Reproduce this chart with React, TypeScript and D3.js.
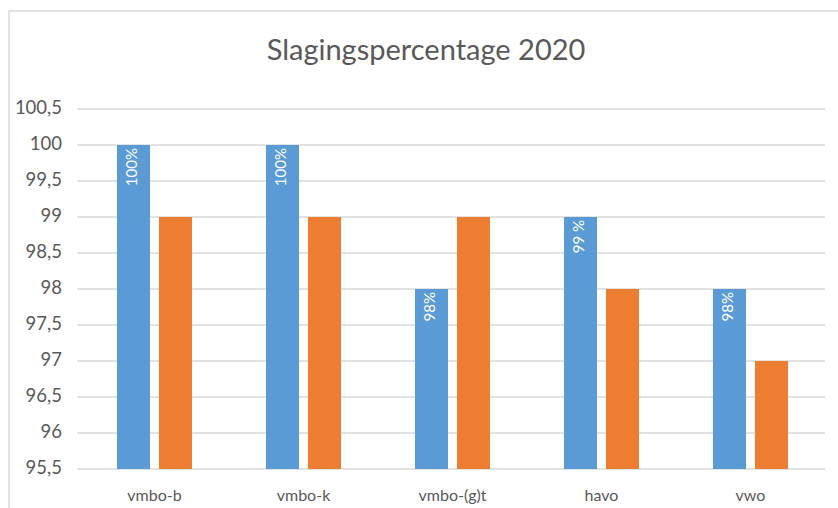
import React from "react";
import * as d3 from "d3";

const title = "Slagingspercentage 2020";
const categories = ["vmbo-b", "vmbo-k", "vmbo-(g)t", "havo", "vwo"];
const seriesNames = ["blauw", "oranje"];
const blueValues = [100, 100, 98, 99, 98];
const orangeValues = [99, 99, 99, 98, 97];
const blueLabels = ["100%", "100%", "98%", "99 %", "98%"];
const yTicks = [95.5, 96, 96.5, 97, 97.5, 98, 98.5, 99, 99.5, 100, 100.5];

const W = 838;
const H = 508;
const colors = ["#5B9BD5", "#ED7D31"];
const font = "Lato, 'Open Sans', sans-serif";
const textColor = "#595959";

export default function App() {
  const y = d3.scaleLinear().domain([95.5, 100.5]).range([469, 109]);
  const x0 = d3.scaleBand<string>().domain(categories).range([80, 825]).padding(0);
  const groupW = 75;
  const x1 = d3.scaleBand<string>().domain(seriesNames).range([-groupW / 2, groupW / 2]).paddingInner(0.214);
  const fmt = (v: number) => d3.format("")(v).replace(".", ",");
  const seriesVals = [blueValues, orangeValues];

  return (
    <svg width={W} height={H} style={{ position: "absolute", left: 0, top: 0 }} fontFamily={font}>
      <rect x={0} y={0} width={W} height={H} fill="#fff" />
      <rect x={9} y={11} width={W + 50} height={H + 50} fill="#fff" stroke="#d9d9d9" strokeWidth={1.5} />
      <text x={426} y={60} textAnchor="middle" fontSize={29} fill={textColor}>{title}</text>
      {yTicks.map((t) => (
        <g key={t}>
          <line x1={77} x2={825} y1={y(t)} y2={y(t)} stroke="#d9d9d9" strokeWidth={1.5} />
          <text x={62} y={y(t)} textAnchor="end" dominantBaseline="middle" fontSize={18.5} fill={textColor}>{fmt(t)}</text>
        </g>
      ))}
      {categories.map((c, i) => {
        const cx = (x0(c) as number) + x0.bandwidth() / 2;
        return (
          <g key={c}>
            {seriesVals.map((vals, s) => {
              const bx = cx + (x1(seriesNames[s]) as number);
              return (
                <rect key={s} x={bx} y={y(vals[i])} width={x1.bandwidth()} height={y(95.5) - y(vals[i])} fill={colors[s]} />
              );
            })}
            <text
              transform={`translate(${cx + (x1(seriesNames[0]) as number) + x1.bandwidth() / 2},${y(blueValues[i]) + 3}) rotate(-90)`}
              textAnchor="end"
              dominantBaseline="middle"
              fontSize={15}
              fill="#fff"
            >
              {blueLabels[i]}
            </text>
            <text x={cx} y={497} textAnchor="middle" dominantBaseline="middle" fontSize={16} fill={textColor}>{c}</text>
          </g>
        );
      })}
    </svg>
  );
}
